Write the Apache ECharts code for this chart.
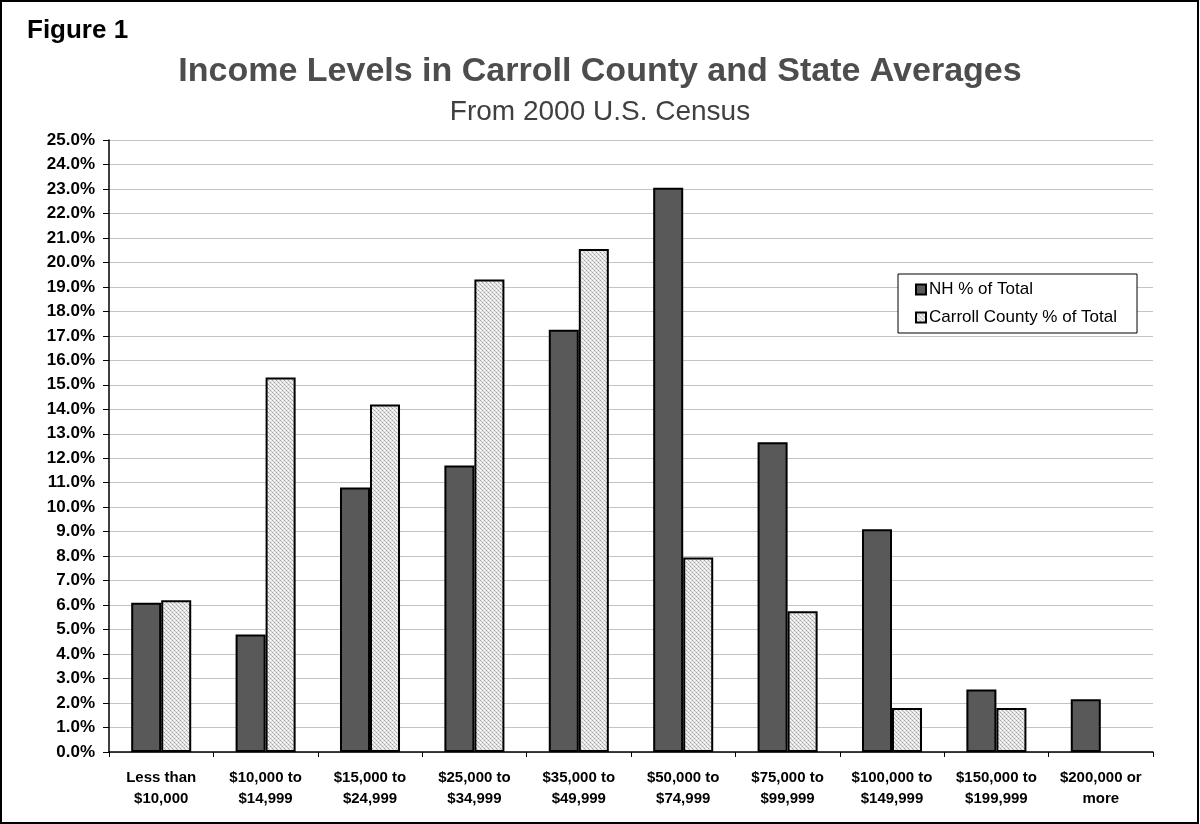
<!DOCTYPE html>
<html>
<head>
<meta charset="utf-8">
<title>Income Levels in Carroll County and State Averages</title>
<script src="https://cdn.jsdelivr.net/npm/echarts@6/dist/echarts.min.js"></script>
<style>
  html, body { margin: 0; padding: 0; background: #fff; }
  #chart { width: 1200px; height: 824px; }
</style>
</head>
<body>
<div id="chart"></div>
<script>
// Income brackets (two-line axis labels)
const categories = [
  'Less than\n$10,000',
  '$10,000 to\n$14,999',
  '$15,000 to\n$24,999',
  '$25,000 to\n$34,999',
  '$35,000 to\n$49,999',
  '$50,000 to\n$74,999',
  '$75,000 to\n$99,999',
  '$100,000 to\n$149,999',
  '$150,000 to\n$199,999',
  '$200,000 or\nmore'
];

// Share of households in each bracket, percent (no county bar in the top bracket)
const nhShare = [6.1, 4.8, 10.8, 11.7, 17.25, 23.05, 12.65, 9.1, 2.55, 2.15];
const carrollShare = [6.2, 15.3, 14.2, 19.3, 20.55, 7.95, 5.75, 1.8, 1.8, null];

const seriesNames = ['NH % of Total', 'Carroll County % of Total'];

// Fine dotted fill for the county bars
function dotPattern() {
  const c = document.createElement('canvas');
  c.width = 4; c.height = 4;
  const ctx = c.getContext('2d');
  ctx.fillStyle = '#e6e6e6';
  ctx.fillRect(0, 0, 4, 4);
  ctx.fillStyle = '#a4a4a4';
  ctx.fillRect(0, 0, 1, 1);
  ctx.fillRect(2, 2, 1, 1);
  ctx.fillStyle = '#ffffff';
  ctx.fillRect(2, 0, 1, 1);
  ctx.fillRect(0, 2, 1, 1);
  ctx.fillStyle = '#c4c4c4';
  ctx.fillRect(1, 1, 1, 1);
  ctx.fillRect(3, 3, 1, 1);
  return c;
}

const chart = echarts.init(document.getElementById('chart'), null, { renderer: 'canvas' });
const font = '"Liberation Sans", Arial, Helvetica, sans-serif';

chart.setOption({
  animation: false,
  backgroundColor: '#ffffff',
  textStyle: { fontFamily: font },
  graphic: [{
    type: 'rect',
    shape: { x: 1, y: 1, width: 1197, height: 822 },
    style: { fill: 'none', stroke: '#000', lineWidth: 2 },
    silent: true
  }],
  title: [
    {
      text: 'Figure 1',
      left: 22, top: 13,
      textStyle: { fontFamily: font, fontSize: 26, fontWeight: 'bold', color: '#000' }
    },
    {
      text: 'Income Levels in Carroll County and State Averages',
      left: 'center', top: 50,
      padding: [5, 5, 5, 15],
      textStyle: { fontFamily: font, fontSize: 34, fontWeight: 'bold', color: '#4d4d4d' }
    },
    {
      text: 'From 2000 U.S. Census',
      left: 'center', top: 93,
      padding: [5, 5, 5, 17],
      textStyle: { fontFamily: font, fontSize: 28, fontWeight: 'normal', color: '#404040' }
    }
  ],
  legend: {
    orient: 'vertical',
    left: 898, top: 274,
    padding: [7, 20, 7, 17],
    itemGap: 11,
    itemWidth: 10, itemHeight: 10,
    icon: 'rect',
    backgroundColor: '#fff',
    borderColor: '#000', borderWidth: 1,
    textStyle: { fontFamily: font, fontSize: 17, color: '#000', padding: [0, 0, 0, -2] },
    data: seriesNames
  },
  grid: { left: 109, right: 47, top: 140, bottom: 72, containLabel: false },
  xAxis: {
    type: 'category',
    data: categories,
    axisLine: { show: true, lineStyle: { color: '#000', width: 1.5 } },
    axisTick: { show: true, alignWithLabel: false, length: 5, lineStyle: { color: '#000', width: 1 } },
    axisLabel: {
      interval: 0, margin: 15,
      fontFamily: font, fontSize: 15, fontWeight: 'bold', color: '#000', lineHeight: 21
    },
    splitLine: { show: false }
  },
  yAxis: {
    type: 'value',
    min: 0, max: 25, interval: 1,
    axisLine: { show: true, lineStyle: { color: '#000', width: 1.5 } },
    axisTick: { show: true, length: 6, inside: false, lineStyle: { color: '#000', width: 1 } },
    axisLabel: {
      margin: 14,
      fontFamily: font, fontSize: 17, fontWeight: 'bold', color: '#000',
      formatter: v => v.toFixed(1) + '%'
    },
    splitLine: { show: true, lineStyle: { color: '#c4c4c4', width: 1 } }
  },
  series: [
    {
      name: seriesNames[0],
      type: 'bar',
      data: nhShare,
      barGap: '0%',
      barCategoryGap: '42.5%',
      itemStyle: { color: '#595959', borderColor: '#000', borderWidth: 2 }
    },
    {
      name: seriesNames[1],
      type: 'bar',
      data: carrollShare,
      barGap: '0%',
      barCategoryGap: '42.5%',
      itemStyle: {
        color: { image: dotPattern(), repeat: 'repeat' },
        borderColor: '#000', borderWidth: 2
      }
    }
  ]
});
</script>
</body>
</html>
